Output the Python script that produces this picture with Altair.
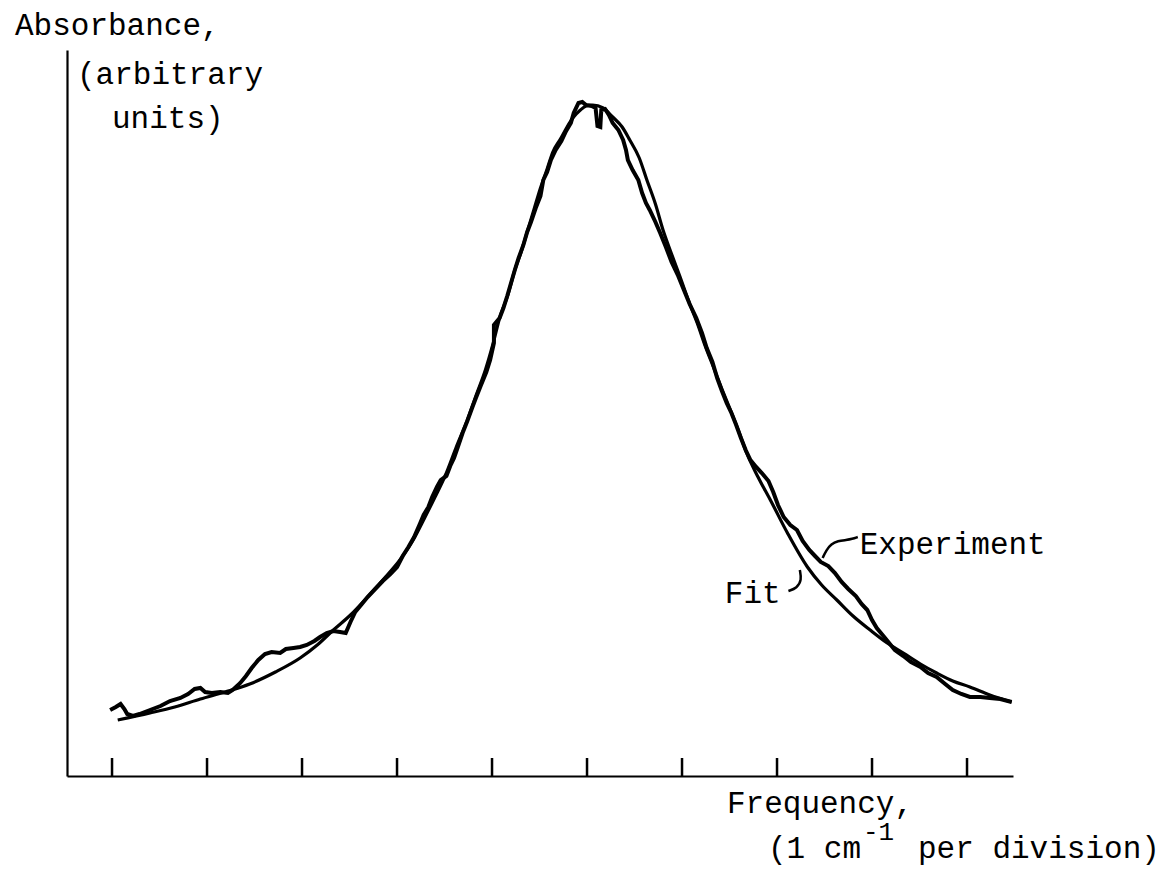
import altair as alt
import pandas as pd

# Fit curve (frequency in cm^-1 from first tick, absorbance in arbitrary units)
fit_x = [0.06, 0.40, 0.66, 0.93, 1.19, 1.45, 1.72, 1.98, 2.16, 2.33, 2.51, 2.68, 2.85, 3.03,
         3.17, 3.29, 3.40, 3.51, 3.62, 3.74, 3.83, 3.93, 4.01, 4.08, 4.17, 4.24, 4.31, 4.37,
         4.44, 4.51, 4.58, 4.64, 4.72, 4.79, 4.85, 4.93, 4.99, 5.06,
         5.17, 5.27, 5.37, 5.45, 5.55, 5.63, 5.72, 5.80, 5.89, 5.98, 6.07, 6.16, 6.24, 6.33,
         6.42, 6.51, 6.60, 6.68, 6.80, 6.93, 7.11, 7.32, 7.47, 7.63, 7.80, 7.98, 8.16, 8.33,
         8.51, 8.68, 8.85, 9.03, 9.24, 9.47]
fit_y = [5.6, 6.3, 6.9, 7.7, 8.4, 9.2, 10.4, 11.8, 13.1, 14.6, 16.1, 17.8, 19.6, 21.6,
         23.6, 25.8, 27.9, 30.1, 32.8, 35.6, 38.0, 40.6, 43.2, 45.8, 48.2, 50.6, 52.5, 54.4,
         56.6, 58.8, 60.7, 62.4, 63.7, 64.9, 65.8, 66.6, 67.0, 67.1,
         66.8, 65.9, 64.9, 63.6, 61.8, 59.6, 57.2, 54.6, 52.2, 49.9, 47.5, 45.3, 43.1, 40.9,
         38.7, 36.6, 34.4, 32.3, 29.9, 27.6, 24.3, 20.9, 19.1, 17.6, 16.0, 14.6, 13.3, 12.3,
         11.2, 10.3, 9.5, 8.9, 8.1, 7.4]

# Experimental trace
exp_x = [-0.02, 0.04, 0.09, 0.13, 0.16, 0.22, 0.29, 0.40, 0.51, 0.61, 0.72, 0.80, 0.87, 0.93,
         0.98, 1.05, 1.14, 1.22, 1.27, 1.35, 1.41, 1.47, 1.54, 1.61, 1.68, 1.77, 1.83, 1.91,
         1.98, 2.05, 2.13, 2.19, 2.26, 2.33, 2.40, 2.46, 2.51, 2.56, 2.63, 2.69, 2.77, 2.85,
         2.93, 3.00, 3.06, 3.12, 3.18, 3.24, 3.28, 3.33, 3.37, 3.42, 3.46, 3.52, 3.56, 3.60,
         3.64, 3.69, 3.74, 3.79, 3.83, 3.88, 3.94, 3.98, 4.02, 4.02, 4.08, 4.12, 4.16, 4.20,
         4.24, 4.28, 4.33, 4.37, 4.41, 4.46, 4.51, 4.54, 4.58, 4.62, 4.67, 4.73, 4.78, 4.83,
         4.86, 4.91, 4.95, 4.99, 5.05, 5.09, 5.11, 5.14, 5.15, 5.19, 5.23, 5.27, 5.33, 5.38,
         5.41, 5.43, 5.48, 5.54, 5.58, 5.62, 5.66, 5.72, 5.77, 5.83, 5.89, 5.96, 6.02, 6.08,
         6.15, 6.21, 6.26, 6.32, 6.37, 6.42, 6.47, 6.52, 6.57, 6.62, 6.67, 6.72, 6.78, 6.84,
         6.91, 6.96, 7.01, 7.07, 7.14, 7.21, 7.27, 7.34, 7.40, 7.46, 7.54, 7.61, 7.68, 7.75,
         7.83, 7.89, 7.95, 8.00, 8.05, 8.12, 8.18, 8.24, 8.33, 8.41, 8.51, 8.59, 8.68, 8.77,
         8.85, 8.94, 9.03, 9.14, 9.24, 9.35, 9.47]
exp_y = [6.6, 6.9, 7.2, 6.7, 6.2, 6.0, 6.2, 6.6, 7.0, 7.5, 7.8, 8.2, 8.7, 8.8,
         8.4, 8.3, 8.4, 8.3, 8.6, 9.3, 10.0, 10.8, 11.6, 12.2, 12.4, 12.3, 12.7, 12.8,
         12.9, 13.1, 13.5, 13.9, 14.3, 14.5, 14.4, 14.3, 15.4, 16.4, 17.2, 17.9, 18.7, 19.5,
         20.2, 20.9, 22.0, 22.9, 23.9, 25.2, 26.1, 26.9, 27.9, 28.9, 29.6, 30.0, 31.0, 31.8,
         32.9, 34.3, 35.5, 36.8, 37.8, 39.0, 40.4, 41.6, 43.3, 45.1, 45.8, 46.8, 48.0, 49.3,
         50.6, 51.8, 53.1, 54.4, 55.4, 56.8, 58.0, 59.6, 60.4, 61.6, 62.6, 63.5, 64.5, 65.3,
         66.3, 67.3, 67.4, 67.1, 67.0, 66.8, 65.0, 64.9, 66.6, 66.7, 66.1, 65.3, 64.6, 63.6,
         62.6, 61.6, 60.6, 59.6, 58.3, 57.3, 56.6, 55.4, 54.3, 52.9, 51.4, 50.0, 48.6, 47.2,
         45.8, 44.3, 42.8, 41.4, 39.8, 38.5, 37.3, 36.3, 35.1, 33.8, 32.6, 31.6, 30.9, 30.3,
         29.5, 28.4, 27.1, 25.9, 25.1, 24.6, 23.5, 22.6, 22.0, 21.4, 21.0, 20.3, 19.4, 18.7,
         18.0, 17.2, 16.6, 15.6, 14.8, 14.0, 13.3, 12.6, 12.0, 11.4, 10.9, 10.3, 9.9, 9.2,
         8.6, 8.2, 7.9, 7.9, 7.8, 7.7, 7.4]

# Leader strokes for the labels
lead_exp_x = [7.48, 7.52, 7.57, 7.64, 7.73, 7.79, 7.85]
lead_exp_y = [21.8, 22.6, 23.2, 23.5, 23.6, 23.7, 23.9]
lead_fit_x = [7.24, 7.26, 7.21, 7.12]
lead_fit_y = [20.6, 19.6, 18.8, 18.5]

tick_positions = [0, 1, 2, 3, 4, 5, 6, 7, 8, 9]
labels = ["Experiment", "Fit"]
label_x = [7.87, 6.45]
label_y = [22.2, 17.3]

X_DOMAIN = [-0.474, 9.484]
Y_DOMAIN = [0, 72.6]
FONT = "Liberation Mono"

xs = alt.Scale(domain=X_DOMAIN, nice=False, zero=False)
ys = alt.Scale(domain=Y_DOMAIN, nice=False, zero=False)
axx = alt.Axis(labels=False, ticks=False, grid=False, title=None,
               domainColor="black", domainWidth=2.2)
axy = alt.Axis(labels=False, ticks=False, grid=False, title=None,
               domainColor="black", domainWidth=2.2)

df_fit = pd.DataFrame({"f": fit_x, "a": fit_y, "i": range(len(fit_x))})
df_exp = pd.DataFrame({"f": exp_x, "a": exp_y, "i": range(len(exp_x))})
df_le = pd.DataFrame({"f": lead_exp_x, "a": lead_exp_y, "i": range(len(lead_exp_x))})
df_lf = pd.DataFrame({"f": lead_fit_x, "a": lead_fit_y, "i": range(len(lead_fit_x))})
df_ticks = pd.DataFrame({"f": tick_positions})
df_lab = pd.DataFrame({"t": labels, "f": label_x, "a": label_y})

axes = alt.Chart(df_ticks).mark_rule(strokeWidth=2.5, color="black").encode(
    x=alt.X("f:Q", scale=xs, axis=axx),
    y=alt.value(726),
    y2=alt.value(708),
)
yaxis = alt.Chart(df_ticks).mark_point(opacity=0).encode(
    x=alt.X("f:Q", scale=xs, axis=axx),
    y=alt.Y("f:Q", scale=ys, axis=axy),
)

fit = alt.Chart(df_fit).mark_line(color="black", strokeWidth=3.2, interpolate="monotone").encode(
    x=alt.X("f:Q", scale=xs, axis=axx),
    y=alt.Y("a:Q", scale=ys, axis=axy),
    order="i:Q",
)
exp = alt.Chart(df_exp).mark_line(color="black", strokeWidth=4, strokeJoin="miter").encode(
    x=alt.X("f:Q", scale=xs, axis=axx),
    y=alt.Y("a:Q", scale=ys, axis=axy),
    order="i:Q",
)
le = alt.Chart(df_le).mark_line(color="black", strokeWidth=2.5, interpolate="basis").encode(
    x=alt.X("f:Q", scale=xs), y=alt.Y("a:Q", scale=ys), order="i:Q")
lf = alt.Chart(df_lf).mark_line(color="black", strokeWidth=2.5, interpolate="basis").encode(
    x=alt.X("f:Q", scale=xs), y=alt.Y("a:Q", scale=ys), order="i:Q")

lab = alt.Chart(df_lab).mark_text(font=FONT, fontSize=31, align="left",
                                  baseline="alphabetic", color="black").encode(
    x=alt.X("f:Q", scale=xs), y=alt.Y("a:Q", scale=ys), text="t:N")

def title_text(s, px, py, size=31):
    return alt.Chart(pd.DataFrame({"t": [s]})).mark_text(
        font=FONT, fontSize=size, align="left", baseline="alphabetic", color="black"
    ).encode(x=alt.value(px), y=alt.value(py), text="t:N")

titles = [
    title_text("Absorbance,", -52, -15),
    title_text("(arbitrary", 10, 34),
    title_text("units)", 45, 78),
    title_text("Frequency,", 660, 763),
    title_text("(1 cm", 701, 808),
    title_text("-1", 796, 790, 26),
    title_text("per division)", 851, 808),
]

chart = alt.layer(yaxis, axes, fit, exp, le, lf, lab, *titles).properties(
    width=946, height=726,
    autosize="none",
    padding={"left": 67, "top": 50, "right": 154, "bottom": 104},
    background="white",
).configure_view(stroke=None)

chart.save("out.html", embed_options={"renderer": "svg", "actions": False})
